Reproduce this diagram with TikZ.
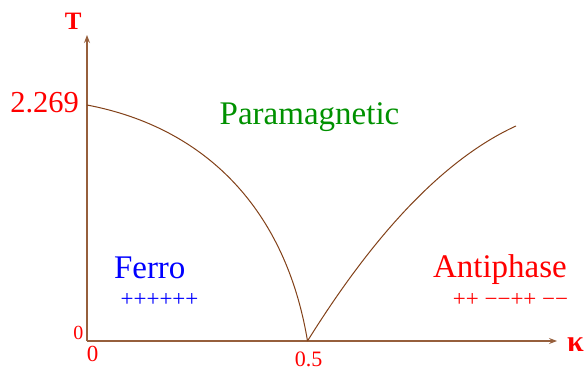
\documentclass[tikz,border=0pt]{standalone}
\usepackage{fontspec}
\setmainfont{Liberation Serif}
\usetikzlibrary{arrows.meta}
\definecolor{axisbrown}{RGB}{150,95,60}
\definecolor{curvebrown}{RGB}{130,65,25}
\definecolor{pgreen}{RGB}{0,145,0}
\tikzset{
  axis/.style={draw=axisbrown, line width=1.1pt, -{Stealth[length=8pt,width=6pt,inset=3pt]}},
  boundary/.style={draw=curvebrown, line width=1pt},
  lbl/.style={inner sep=0pt, outer sep=0pt, text=red},
  phase/.style={inner sep=0pt, outer sep=0pt, font=\fontsize{33}{36}\selectfont},
  spins/.style={inner sep=0pt, outer sep=0pt, font=\fontsize{23}{26}\selectfont}
}
\begin{document}
\begin{tikzpicture}[x=1pt,y=-1pt]
\useasboundingbox (0,0) rectangle (584,371);
\coordinate (O) at (87,341);
\coordinate (Ytip) at (87,35);
\coordinate (Xtip) at (557,341);
\coordinate (Tc) at (87,105);
\coordinate (K) at (307.5,341);
\draw[axis] (O) -- (Ytip);
\draw[axis] (O) -- (Xtip);
% ferro-para boundary
\draw[boundary] (Tc) .. controls (207,127.8) and (286,211) .. (K);
% antiphase-para boundary
\draw[boundary] (K) -- plot[domain=0:208.5, samples=120, variable=\u]
  ({307.5+\u},{341-(1.604*\u-0.002742*\u*\u)});
% labels
\node[lbl, anchor=base, font=\fontsize{25}{28}\selectfont\bfseries] (T) at (73.3,29.3) {T};
\node[lbl, anchor=base west, font=\fontsize{30}{33}\selectfont\bfseries] (kappa) at (567,352) {κ};
\node[lbl, anchor=base east, font=\fontsize{30.5}{33}\selectfont] (tc) at (79,112.7) {2.269};
\node[lbl, anchor=base east, font=\fontsize{20}{23}\selectfont] (zy) at (83.3,340) {0};
\node[lbl, anchor=base, font=\fontsize{23}{26}\selectfont] (zx) at (92.5,361.5) {0};
\node[lbl, anchor=base, font=\fontsize{22}{25}\selectfont] (half) at (308.5,366.5) {0.5};
\node[phase, anchor=base, text=pgreen] (para) at (309.5,125) {Paramagnetic};
\node[phase, anchor=base west, text=blue] (ferro) at (114,279) {Ferro};
\node[spins, anchor=base, text=blue] (fs) at (159.5,307) {++++++};
\node[phase, anchor=base west, text=red] (anti) at (433,278) {Antiphase};
\node[spins, anchor=base, text=red] (as) at (510.5,307) {++ −−++ −−};
\end{tikzpicture}
\end{document}
